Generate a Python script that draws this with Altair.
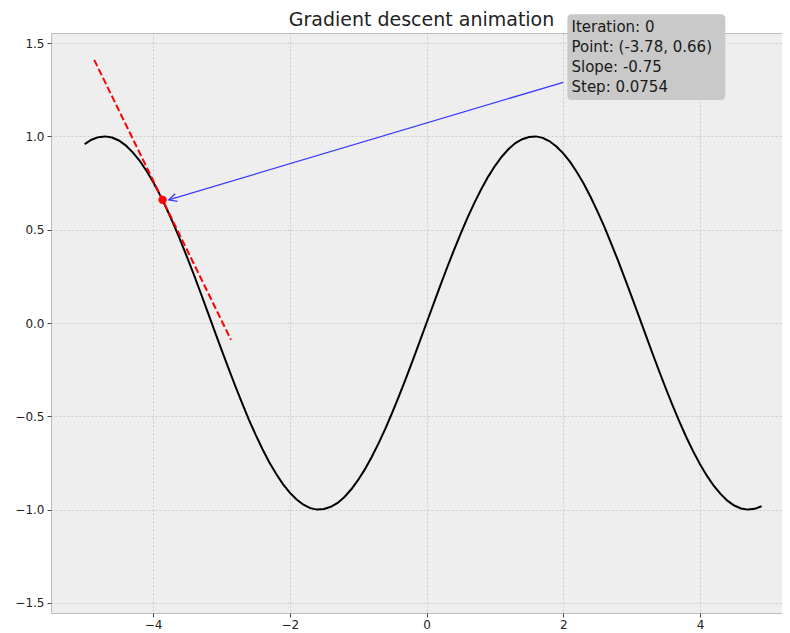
import math
import altair as alt
import pandas as pd

# ---- data ----
curve_x = [-5.0, -4.9, -4.8, -4.7, -4.6, -4.5, -4.4, -4.3, -4.2, -4.1,
           -4.0, -3.9, -3.8, -3.7, -3.6, -3.5, -3.4, -3.3, -3.2, -3.1,
           -3.0, -2.9, -2.8, -2.7, -2.6, -2.5, -2.4, -2.3, -2.2, -2.1,
           -2.0, -1.9, -1.8, -1.7, -1.6, -1.5, -1.4, -1.3, -1.2, -1.1,
           -1.0, -0.9, -0.8, -0.7, -0.6, -0.5, -0.4, -0.3, -0.2, -0.1,
           0.0, 0.1, 0.2, 0.3, 0.4, 0.5, 0.6, 0.7, 0.8, 0.9,
           1.0, 1.1, 1.2, 1.3, 1.4, 1.5, 1.6, 1.7, 1.8, 1.9,
           2.0, 2.1, 2.2, 2.3, 2.4, 2.5, 2.6, 2.7, 2.8, 2.9,
           3.0, 3.1, 3.2, 3.3, 3.4, 3.5, 3.6, 3.7, 3.8, 3.9,
           4.0, 4.1, 4.2, 4.3, 4.4, 4.5, 4.6, 4.7, 4.8, 4.9]
curve_y = [0.959, 0.982, 0.996, 1.000, 0.994, 0.978, 0.952, 0.916, 0.872, 0.818,
           0.757, 0.688, 0.612, 0.530, 0.443, 0.351, 0.256, 0.158, 0.058, -0.042,
           -0.141, -0.239, -0.335, -0.427, -0.516, -0.598, -0.675, -0.746, -0.808, -0.863,
           -0.909, -0.946, -0.974, -0.992, -1.000, -0.997, -0.985, -0.964, -0.932, -0.891,
           -0.841, -0.783, -0.717, -0.644, -0.565, -0.479, -0.389, -0.296, -0.199, -0.100,
           0.000, 0.100, 0.199, 0.296, 0.389, 0.479, 0.565, 0.644, 0.717, 0.783,
           0.841, 0.891, 0.932, 0.964, 0.985, 0.997, 1.000, 0.992, 0.974, 0.946,
           0.909, 0.863, 0.808, 0.746, 0.675, 0.598, 0.516, 0.427, 0.335, 0.239,
           0.141, 0.042, -0.058, -0.158, -0.256, -0.351, -0.443, -0.530, -0.612, -0.688,
           -0.757, -0.818, -0.872, -0.916, -0.952, -0.978, -0.994, -1.000, -0.996, -0.982]

point_x = [-3.86]
point_y = [0.66]

tangent_x = [-4.86, -2.86]
tangent_y = [1.41, -0.09]

arrow_x = [2.0, -3.77]
arrow_y = [1.29, 0.66]

box_x = [2.06, 4.37]
box_y = [1.195, 1.655]

title_text = "Gradient descent animation"
info_lines = ["Iteration: 0", "Point: (-3.78, 0.66)", "Slope: -0.75", "Step: 0.0754"]
info_x = [2.12, 2.12, 2.12, 2.12]
info_y = [1.559, 1.452, 1.345, 1.238]

x_ticks = [-4, -2, 0, 2, 4]
y_ticks = [-1.5, -1.0, -0.5, 0.0, 0.5, 1.0, 1.5]

# ---- layout ----
W, H = 731, 580
x_dom = [-5.492, 5.199]
y_dom = [-1.554, 1.554]

xs = alt.Scale(domain=x_dom, nice=False, zero=False)
ys = alt.Scale(domain=y_dom, nice=False, zero=False)

X = lambda f: alt.X(f, type="quantitative", scale=xs,
                    axis=alt.Axis(values=x_ticks, format="d", title=None,
                                  labelPadding=2))
Y = lambda f: alt.Y(f, type="quantitative", scale=ys,
                    axis=alt.Axis(values=y_ticks, format=".1f", title=None))

curve_df = pd.DataFrame({"x": curve_x, "y": curve_y})
tan_df = pd.DataFrame({"x": tangent_x, "y": tangent_y})
pt_df = pd.DataFrame({"x": point_x, "y": point_y})
arrow_df = pd.DataFrame({"x": [arrow_x[0]], "y": [arrow_y[0]],
                         "x2": [arrow_x[1]], "y2": [arrow_y[1]]})
head_df = pd.DataFrame({"x": [arrow_x[1]], "y": [arrow_y[1]]})
box_df = pd.DataFrame({"x": [box_x[0]], "x2": [box_x[1]],
                       "y": [box_y[0]], "y2": [box_y[1]]})
text_df = pd.DataFrame({"x": info_x, "y": info_y, "t": info_lines})
title_df = pd.DataFrame({"t": [title_text]})

# arrow head orientation in screen space
kx = W / (x_dom[1] - x_dom[0])
ky = H / (y_dom[1] - y_dom[0])
dx = (arrow_x[1] - arrow_x[0]) * kx
dy = -(arrow_y[1] - arrow_y[0]) * ky
angle = math.degrees(math.atan2(dy, dx)) % 360

curve = alt.Chart(curve_df).mark_line(
    color="black", strokeWidth=2
).encode(x=X("x"), y=Y("y"))

tangent = alt.Chart(tan_df).mark_line(
    color="#ff0000", strokeWidth=2, strokeDash=[7, 3]
).encode(x=X("x"), y=Y("y"))

dot = alt.Chart(pt_df).mark_circle(
    color="#ff0000", size=70, opacity=1
).encode(x=X("x"), y=Y("y"))

arrow = alt.Chart(arrow_df).mark_rule(
    color="#3a3aff", strokeWidth=1.3
).encode(x=X("x"), y=Y("y"), x2="x2", y2="y2")

head = alt.Chart(head_df).mark_point(
    shape="M -1 -0.5 L 0 0 L -1 0.5", size=256, filled=False,
    stroke="#3a3aff", strokeWidth=1.3, angle=angle, opacity=1
).encode(x=X("x"), y=Y("y"))

box = alt.Chart(box_df).mark_rect(
    color="#c9c9c9", cornerRadius=4
).encode(x=X("x"), x2="x2", y=Y("y"), y2="y2")

text = alt.Chart(text_df).mark_text(
    align="left", baseline="alphabetic", font="DejaVu Sans",
    fontSize=15, color="#1a1a1a"
).encode(x=X("x"), y=Y("y"), text="t:N")

title = alt.Chart(title_df).mark_text(
    align="center", baseline="alphabetic", font="DejaVu Sans",
    fontSize=19, color="#222222"
).encode(x=alt.value(370.5), y=alt.value(-7), text="t:N")

chart = alt.layer(curve, tangent, dot, arrow, head, box, text, title).properties(
    width=W, height=H,
    autosize=alt.AutoSizeParams(type="none"),
    padding={"left": 43, "top": 25, "right": 0, "bottom": 25},
).configure_view(
    fill="#eeeeee", stroke="#bcbcbc", strokeWidth=1
).configure_axis(
    grid=True, gridColor="#c2c2c2", gridDash=[2, 2], gridWidth=0.8,
    domain=False, tickColor="#444444", tickSize=4, labelPadding=3,
    labelFont="DejaVu Sans", labelFontSize=12, labelColor="#222222"
)

chart.save("out.html", embed_options={"renderer": "svg", "actions": False})
